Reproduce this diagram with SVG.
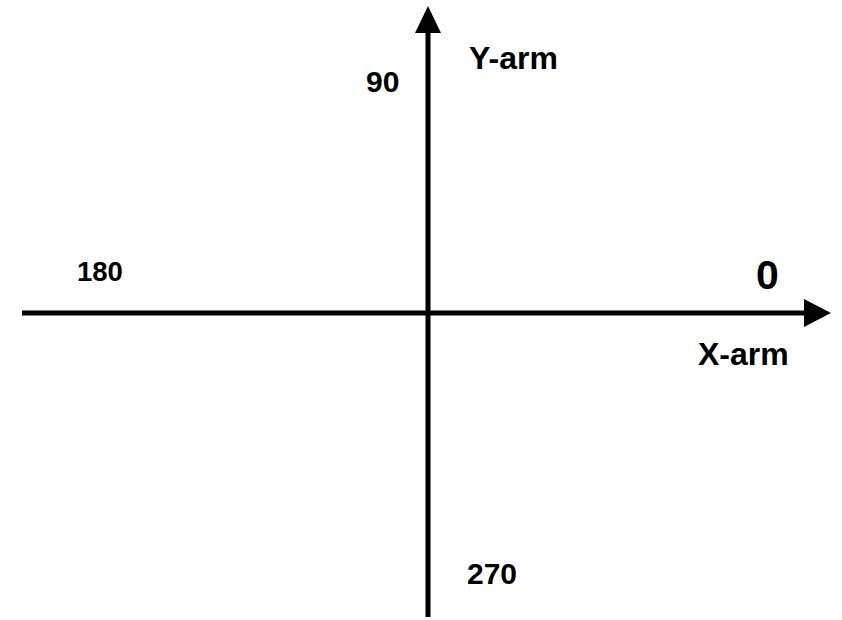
<svg xmlns="http://www.w3.org/2000/svg" width="842" height="620" viewBox="0 0 842 620">
<style>
.ax{stroke:#000;stroke-width:5;fill:none}
.t{font-family:"Liberation Sans",Arial,sans-serif;font-weight:bold;fill:#000}
</style>
<rect width="842" height="620" fill="#fff"/>
<g id="connectors">
<line class="ax" x1="428" y1="617" x2="428" y2="30"/>
<polygon points="428,6 441,33 415,33" fill="#000"/>
<line class="ax" x1="22" y1="313" x2="808" y2="313"/>
<polygon points="831,313 804,299 804,327" fill="#000"/>
</g>
<g id="labels">
<text class="t" x="469" y="69" font-size="32">Y-arm</text>
<text class="t" x="366" y="92" font-size="30">90</text>
<text class="t" x="77" y="281" font-size="27.5">180</text>
<text class="t" x="756" y="289" font-size="41">0</text>
<text class="t" x="698" y="365" font-size="32">X-arm</text>
<text class="t" x="467" y="584" font-size="30">270</text>
</g>
</svg>
